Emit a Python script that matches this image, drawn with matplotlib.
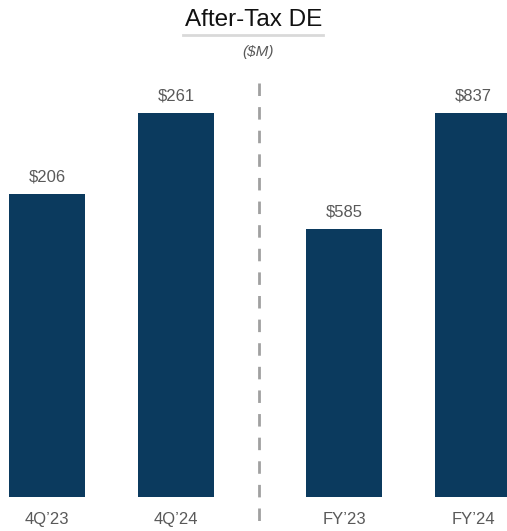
import matplotlib.pyplot as plt
from matplotlib.lines import Line2D

# Data
quarter_labels = ["4Q\u201923", "4Q\u201924"]
quarter_values = [206, 261]
year_labels = ["FY\u201923", "FY\u201924"]
year_values = [585, 837]

bar_color = "#0b3a5e"
text_gray = "#595959"

plt.rcParams['font.family'] = ['Liberation Sans', 'DejaVu Sans']

W, H = 507, 531
fig = plt.figure(figsize=(W / 100, H / 100), dpi=100)

# pixel geometry
bottom_px, top_px = 497, 85
split_px = 259
step_px = 129
bar_w = 76 / step_px
max_bar_px = bottom_px - 113
ax_h = bottom_px - top_px


def make_panel(x0, x1, first_center, labels, values):
    ax = fig.add_axes([x0 / W, (H - bottom_px) / H, (x1 - x0) / W, ax_h / H])
    pos = list(range(len(values)))
    ax.bar(pos, values, width=bar_w, color=bar_color)
    ax.set_xlim(-(first_center - x0) / step_px, (x1 - first_center) / step_px)
    ax.set_ylim(0, max(values) * ax_h / max_bar_px)
    ymax = ax.get_ylim()[1]
    for p, v in zip(pos, values):
        ax.text(p, v + ymax * 0.022, f"${v}", ha='center', va='bottom',
                fontsize=12, color=text_gray)
    ax.set_xticks(pos)
    ax.set_xticklabels(labels, fontsize=12, color=text_gray)
    ax.tick_params(axis='x', length=0, pad=11)
    ax.set_yticks([])
    for s in ax.spines.values():
        s.set_visible(False)
    return ax


make_panel(0, split_px, 47, quarter_labels, quarter_values)
make_panel(split_px, W, 344, year_labels, year_values)

# divider
fig.add_artist(Line2D([split_px / W, split_px / W], [(H - 83) / H, (H - 525) / H],
                      transform=fig.transFigure, color="#a0a0a0", lw=2,
                      linestyle=(0, (4.5, 4))))

# title
fig.text(254 / W, 1 - 20 / H, "After-Tax DE", ha='center', va='center',
         fontsize=17.5, color="#111111")
fig.add_artist(Line2D([183 / W, 323 / W], [1 - 35 / H, 1 - 35 / H],
                      transform=fig.transFigure, color="#d9d9d9", lw=2))
fig.text(258 / W, 1 - 52 / H, "($M)", ha='center', va='center',
         fontsize=11, style='italic', color=text_gray)

fig.savefig("out.png", dpi=100)
